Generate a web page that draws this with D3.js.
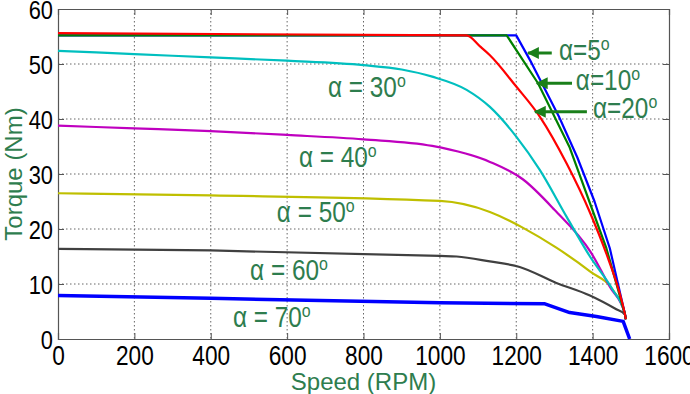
<!DOCTYPE html>
<html>
<head>
<meta charset="utf-8">
<script src="https://cdn.jsdelivr.net/npm/d3@7"></script>
<style>
  body { margin: 0; background: #fff; }
  text { font-family: "Liberation Sans", Arial, sans-serif; }
</style>
</head>
<body>
<div id="chart"></div>
<script>
// torque-speed curves for different firing angles

// tick values
var xTicks = [0, 200, 400, 600, 800, 1000, 1200, 1400, 1600];
var yTicks = [0, 10, 20, 30, 40, 50, 60];

// speed (RPM) and torque (Nm) of each curve
var speed70 = [0, 400, 1000, 1275, 1340, 1410, 1480, 1497];
var torque70 = [7.9, 7.4, 6.6, 6.4, 4.8, 4.1, 3.2, 0];

var speed60 = [0, 400, 1000, 1044, 1131, 1209, 1305, 1393, 1462, 1484, 1487];
var torque60 = [16.4, 16.1, 15.1, 15.0, 14.1, 13.1, 10.2, 7.9, 5.4, 4.5, 3.6];

var speed50 = [0, 400, 1000, 1131, 1218, 1305, 1393, 1454, 1484, 1487];
var torque50 = [26.5, 26.1, 25.1, 23.1, 20.2, 16.6, 12.3, 8.8, 4.7, 3.6];

var speed40 = [0, 200, 400, 600, 800, 980, 1131, 1218, 1300, 1395, 1445, 1484, 1487];
var torque40 = [38.8, 38.3, 37.8, 37.1, 36.3, 35.1, 32.2, 29.0, 23.5, 15.8, 9.5, 4.7, 3.6];

var speed30 = [0, 200, 400, 600, 800, 900, 980, 1070, 1131, 1200, 1262, 1332, 1393, 1453, 1484, 1487];
var torque30 = [52.4, 51.8, 51.2, 50.6, 49.8, 49.0, 47.7, 45.3, 42.2, 36.8, 30.7, 22.2, 15.0, 8.9, 4.7, 3.6];

var speed20 = [0, 1070, 1105, 1131, 1200, 1262, 1332, 1393, 1436, 1470, 1484, 1487];
var torque20 = [55.6, 55.2, 53.2, 51.6, 45.9, 40.4, 31.9, 23.0, 15.5, 8.5, 4.7, 3.6];

var speed10 = [0, 1175, 1257, 1340, 1436, 1484, 1487];
var torque10 = [55.2, 55.2, 46.5, 34.8, 16.5, 4.7, 3.6];

var speed5 = [0, 1200, 1240, 1312, 1360, 1405, 1445, 1484, 1487];
var torque5 = [55.2, 55.2, 50.2, 40.4, 33.0, 25.0, 16.5, 4.7, 3.6];

// label texts and where they sit (speed, torque)
var labelNames = ["α = 30", "α = 40", "α = 50", "α = 60", "α = 70"];
var labelSpeed = [707, 631, 573, 503, 458];
var labelTorque = [44.0, 31.3, 21.3, 10.7, 2.2];

var arrowNames = ["α=5", "α=10", "α=20"];
var arrowTextSpeed = [1312, 1356, 1401];
var arrowTextTorque = [50.7, 45.3, 40.2];
var arrowFrom = [1293, 1346, 1385];
var arrowTo = [1231, 1254, 1249];
var arrowTorque = [52.0, 46.5, 41.3];

var width = 690, height = 394;
var margin = { top: 9, right: 21, bottom: 55, left: 58 };
var w = width - margin.left - margin.right;
var h = height - margin.top - margin.bottom;
var squeeze = 0.84;
var textGreen = "#2e7d4e";

var svg = d3.select("#chart").append("svg")
  .attr("width", width)
  .attr("height", height);

var g = svg.append("g")
  .attr("transform", "translate(" + margin.left + "," + margin.top + ")");

var x = d3.scaleLinear().domain([0, 1600]).range([0, w]);
var y = d3.scaleLinear().domain([0, 60]).range([h, 0]);

// dotted grid
g.selectAll(".gx").data(xTicks.slice(1, -1)).enter().append("line")
  .attr("x1", function (d) { return x(d); })
  .attr("x2", function (d) { return x(d); })
  .attr("y1", 0).attr("y2", h)
  .style("stroke", "#666").style("stroke-dasharray", "1.5,2.5");
g.selectAll(".gy").data(yTicks.slice(1, -1)).enter().append("line")
  .attr("y1", function (d) { return y(d); })
  .attr("y2", function (d) { return y(d); })
  .attr("x1", 0).attr("x2", w)
  .style("stroke", "#666").style("stroke-dasharray", "1.5,2.5");

// axes with inward ticks
var fmt = d3.format("d");
var xAxis = g.append("g").attr("transform", "translate(0," + h + ")")
  .call(d3.axisBottom(x).tickValues(xTicks).tickFormat(fmt).tickSize(-6).tickPadding(7));
var yAxis = g.append("g")
  .call(d3.axisLeft(y).tickValues(yTicks).tickFormat(fmt).tickSize(-6).tickPadding(6));
g.append("g").call(d3.axisTop(x).tickValues(xTicks).tickFormat("").tickSize(-6));
g.append("g").attr("transform", "translate(" + w + ",0)")
  .call(d3.axisRight(y).tickValues(yTicks).tickFormat("").tickSize(-6));

g.selectAll(".domain").style("stroke", "#555").style("stroke-width", 1.2);
g.selectAll(".tick line").style("stroke", "#555");

xAxis.selectAll("text")
  .style("font-size", "27px").style("fill", "#000")
  .attr("transform", "scale(" + squeeze + ",1)");
yAxis.selectAll("text")
  .style("font-size", "26px").style("fill", "#000")
  .attr("dy", "0.38em")
  .attr("transform", "scale(" + squeeze + ",1)");

// curves
var series = [
  { s: speed70, t: torque70, color: "#0000ff", width: 3.5, smooth: false },
  { s: speed60, t: torque60, color: "#404040", width: 2.2, smooth: true },
  { s: speed50, t: torque50, color: "#bfbf00", width: 2.2, smooth: true },
  { s: speed40, t: torque40, color: "#bf00bf", width: 2.2, smooth: true },
  { s: speed30, t: torque30, color: "#00bfbf", width: 2.2, smooth: true },
  { s: speed5, t: torque5, color: "#0000ff", width: 2.2, smooth: false },
  { s: speed10, t: torque10, color: "#008000", width: 2.2, smooth: false },
  { s: speed20, t: torque20, color: "#ff0000", width: 2.2, smooth: true }
];

series.forEach(function (c) {
  var pts = c.s.map(function (v, i) { return [v, c.t[i]]; });
  var line = d3.line()
    .x(function (d) { return x(d[0]); })
    .y(function (d) { return y(d[1]); })
    .curve(c.smooth ? d3.curveMonotoneX : d3.curveLinear);
  g.append("path")
    .datum(pts)
    .attr("d", line)
    .style("fill", "none")
    .style("stroke", c.color)
    .style("stroke-width", c.width)
    .style("stroke-linejoin", "round");
});

// label with a raised "o" for degrees
function addLabel(name, vx, vy) {
  var t = g.append("g")
    .attr("transform", "translate(" + x(vx) + "," + y(vy) + ") scale(" + squeeze + ",1)")
    .append("text")
    .style("fill", textGreen)
    .style("font-size", "29px");
  t.append("tspan").text(name);
  t.append("tspan").text("o").attr("dy", -10).style("font-size", "19px");
}

labelNames.forEach(function (n, i) {
  addLabel(n, labelSpeed[i], labelTorque[i]);
});

// arrows for the three small angles
svg.append("defs").append("marker")
  .attr("id", "head")
  .attr("viewBox", "0 0 10 10")
  .attr("refX", 9).attr("refY", 5)
  .attr("markerWidth", 4.5).attr("markerHeight", 4)
  .attr("orient", "auto")
  .append("path")
  .attr("d", "M0,0L10,5L0,10Z")
  .style("fill", "#1a7f1a");

arrowNames.forEach(function (n, i) {
  g.append("line")
    .attr("x1", x(arrowFrom[i])).attr("x2", x(arrowTo[i]))
    .attr("y1", y(arrowTorque[i])).attr("y2", y(arrowTorque[i]))
    .style("stroke", "#1a7f1a")
    .style("stroke-width", 3)
    .attr("marker-end", "url(#head)");
  addLabel(n, arrowTextSpeed[i], arrowTextTorque[i]);
});

// axis titles
svg.append("text")
  .attr("x", margin.left + w / 2)
  .attr("y", 390)
  .attr("text-anchor", "middle")
  .style("font-size", "24px")
  .style("fill", textGreen)
  .text("Speed (RPM)");

svg.append("text")
  .attr("transform", "translate(22," + (margin.top + h / 2) + ") rotate(-90)")
  .attr("text-anchor", "middle")
  .style("font-size", "24px")
  .style("fill", textGreen)
  .text("Torque (Nm)");
</script>
</body>
</html>
